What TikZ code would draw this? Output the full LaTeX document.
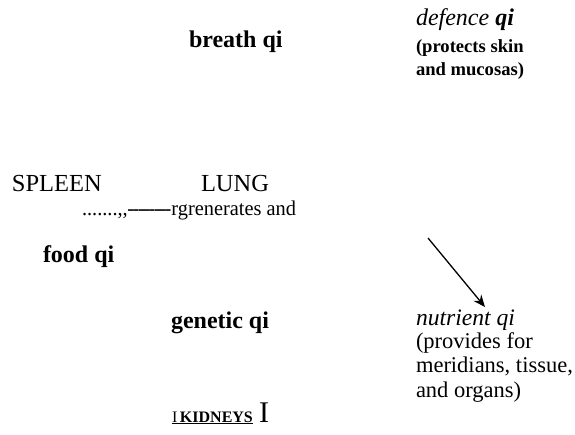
\documentclass[tikz,border=0pt]{standalone}
\usepackage{fontspec}
\setmainfont{Liberation Serif}
\usetikzlibrary{arrows.meta}
\begin{document}
\begin{tikzpicture}[x=1pt,y=-1pt,
  lbl/.style={inner sep=0pt,outer sep=0pt,anchor=base west},
  bq/.style={lbl,font=\fontsize{24}{28}\selectfont\bfseries},
  organ/.style={lbl,font=\fontsize{24.5}{28}\selectfont},
  note/.style={lbl,font=\fontsize{22.5}{26}\selectfont},
  smallbold/.style={lbl,font=\fontsize{18.6}{24}\selectfont\bfseries},
  flow/.style={line width=1.3pt,-{Stealth[length=12pt,width=10pt,inset=4pt]}}]
\useasboundingbox (0,0) rectangle (575,434);
\node[bq] (breath) at (189,47) {breath qi};
\node[lbl,font=\fontsize{24}{28}\selectfont] (defence) at (416,25) {\itshape defence \bfseries qi};
\node[smallbold] (protects) at (416,52) {(protects skin};
\node[smallbold] (mucosas) at (416,75) {and mucosas)};
\node[organ] (spleen) at (12,191) {SPLEEN};
\node[organ] (lung) at (201,191) {LUNG};
\node[lbl,font=\fontsize{21}{24}\selectfont] (gen) at (82,215) {\scalebox{0.97}[1]{.......,{},\kern-0.5pt-\kern-1.5pt-\kern-1.5pt-\kern-1.5pt-\kern-1.5pt-\kern-1.5pt-\kern-1.5pt-\kern-1.5pt-rgrenerates and}};
\node[bq] (food) at (43,262) {food qi};
\node[bq] (genetic) at (171,328) {genetic qi};
\node[lbl,font=\fontsize{23.6}{26}\selectfont\itshape] (nutrient) at (416,325) {nutrient qi};
\node[note] (provides) at (416,348) {(provides for};
\node[note] (meridians) at (416,372) {meridians, tissue,};
\node[note] (organs) at (416,397) {and organs)};
\node[lbl,font=\fontsize{16}{18}\selectfont] (kid) at (172,422) {\underline{I\,\textbf{KIDNEYS}}};
\node[lbl,font=\fontsize{30}{32}\selectfont] (bigI) at (259,422) {I};
\coordinate (a1) at (428,238);
\coordinate (a2) at (485,307);
\draw[flow] (a1) -- (a2);
\end{tikzpicture}
\end{document}
